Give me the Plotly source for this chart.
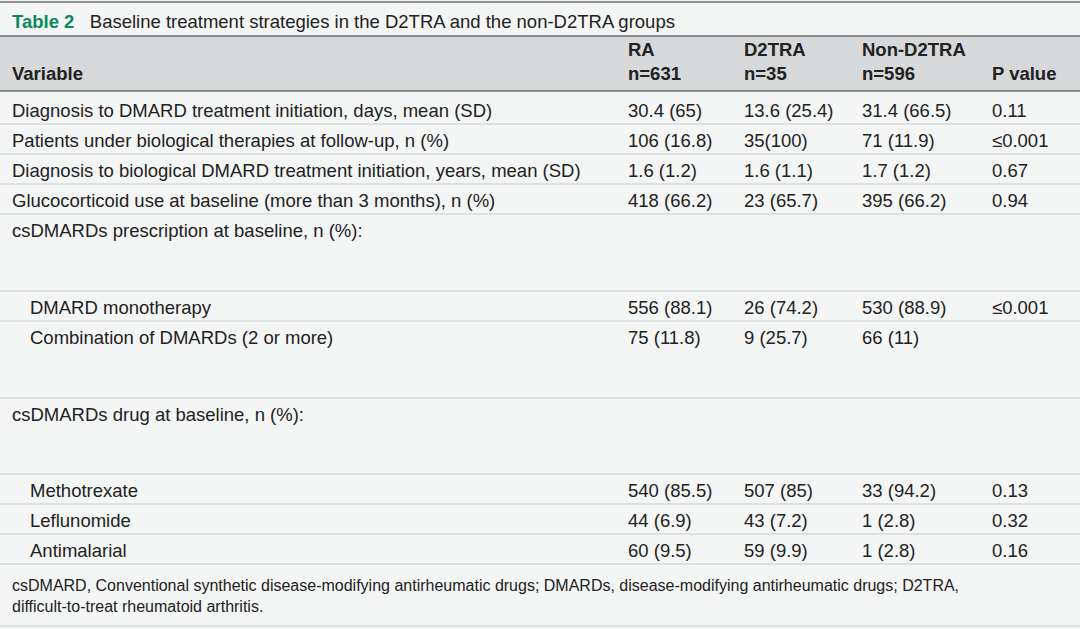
import plotly.graph_objects as go

title_label = "Table 2"
title_text = "Baseline treatment strategies in the D2TRA and the non-D2TRA groups"
headers = ["Variable", "RA<br>n=631", "D2TRA<br>n=35", "Non-D2TRA<br>n=596", "P value"]

variables = [
    "Diagnosis to DMARD treatment initiation, days, mean (SD)",
    "Patients under biological therapies at follow-up, n (%)",
    "Diagnosis to biological DMARD treatment initiation, years, mean (SD)",
    "Glucocorticoid use at baseline (more than 3 months), n (%)",
    "csDMARDs prescription at baseline, n (%):",
    "DMARD monotherapy",
    "Combination of DMARDs (2 or more)",
    "csDMARDs drug at baseline, n (%):",
    "Methotrexate",
    "Leflunomide",
    "Antimalarial",
]
ra = ["30.4 (65)", "106 (16.8)", "1.6 (1.2)", "418 (66.2)", "", "556 (88.1)", "75 (11.8)", "", "540 (85.5)", "44 (6.9)", "60 (9.5)"]
d2tra = ["13.6 (25.4)", "35(100)", "1.6 (1.1)", "23 (65.7)", "", "26 (74.2)", "9 (25.7)", "", "507 (85)", "43 (7.2)", "59 (9.9)"]
non_d2tra = ["31.4 (66.5)", "71 (11.9)", "1.7 (1.2)", "395 (66.2)", "", "530 (88.9)", "66 (11)", "", "33 (94.2)", "1 (2.8)", "1 (2.8)"]
p_value = ["0.11", "≤0.001", "0.67", "0.94", "", "≤0.001", "", "", "0.13", "0.32", "0.16"]
indent = [False, False, False, False, False, True, True, False, True, True, True]
footnote = ("csDMARD, Conventional synthetic disease-modifying antirheumatic drugs; DMARDs, disease-modifying antirheumatic drugs; D2TRA,<br>"
            "difficult-to-treat rheumatoid arthritis.")

# layout (pixels)
W, H = 1080, 629
col_x = [10, 626, 742, 860, 990]
row_h = [30, 30, 30, 30, 77, 30, 77, 76, 30, 30, 30]
font = "Liberation Sans, Arial, sans-serif"
fs = 18.5
dark = "#6d6e70"
light = "#c9cbcc"

shapes = [
    dict(type="rect", x0=0, x1=W, y0=0, y1=H, fillcolor="#f4f5f5", line_width=0, layer="below"),
    dict(type="rect", x0=0, x1=W, y0=36, y1=91, fillcolor="#d6d8d9", line_width=0, layer="below"),
]
ann = []
for y in (2, 36, 91):
    shapes.append(dict(type="line", x0=0, x1=W, y0=y, y1=y, line=dict(color=dark, width=1.5)))

ann.append(dict(x=10, y=21, text=f"<b><span style='color:#0a8a5a'>{title_label}</span></b>   {title_text}",
                xanchor="left", yanchor="middle", showarrow=False, font=dict(size=fs, color="#222")))
for i, h in enumerate(headers):
    ann.append(dict(x=col_x[i], y=86, text=f"<b>{h}</b>", xanchor="left", yanchor="bottom",
                    showarrow=False, align="left", font=dict(size=fs, color="#222")))

y = 94
for i, v in enumerate(variables):
    ty = y + 16
    cells = [v, ra[i], d2tra[i], non_d2tra[i], p_value[i]]
    for j, c in enumerate(cells):
        x = col_x[j] + (18 if (j == 0 and indent[i]) else 0)
        ann.append(dict(x=x, y=ty, text=c, xanchor="left", yanchor="middle", showarrow=False,
                        font=dict(size=fs, color="#222")))
    y += row_h[i]
    shapes.append(dict(type="line", x0=0, x1=W, y0=y, y1=y, line=dict(color=light, width=1.2)))

ann.append(dict(x=10, y=y + 32, text=footnote, xanchor="left", yanchor="middle", align="left",
                showarrow=False, font=dict(size=16, color="#222")))
shapes.append(dict(type="line", x0=0, x1=W, y0=626, y1=626, line=dict(color=light, width=1.2)))

fig = go.Figure()
fig.update_layout(
    width=W, height=H, margin=dict(l=0, r=0, t=0, b=0),
    paper_bgcolor="white", plot_bgcolor="white",
    font=dict(family=font),
    xaxis=dict(range=[0, W], visible=False, fixedrange=True),
    yaxis=dict(range=[H, 0], visible=False, fixedrange=True),
    shapes=shapes, annotations=ann, showlegend=False,
)
fig.write_html("out.html", config={"displayModeBar": False},
               post_script="document.body.style.margin='0';document.body.style.overflow='hidden';")
